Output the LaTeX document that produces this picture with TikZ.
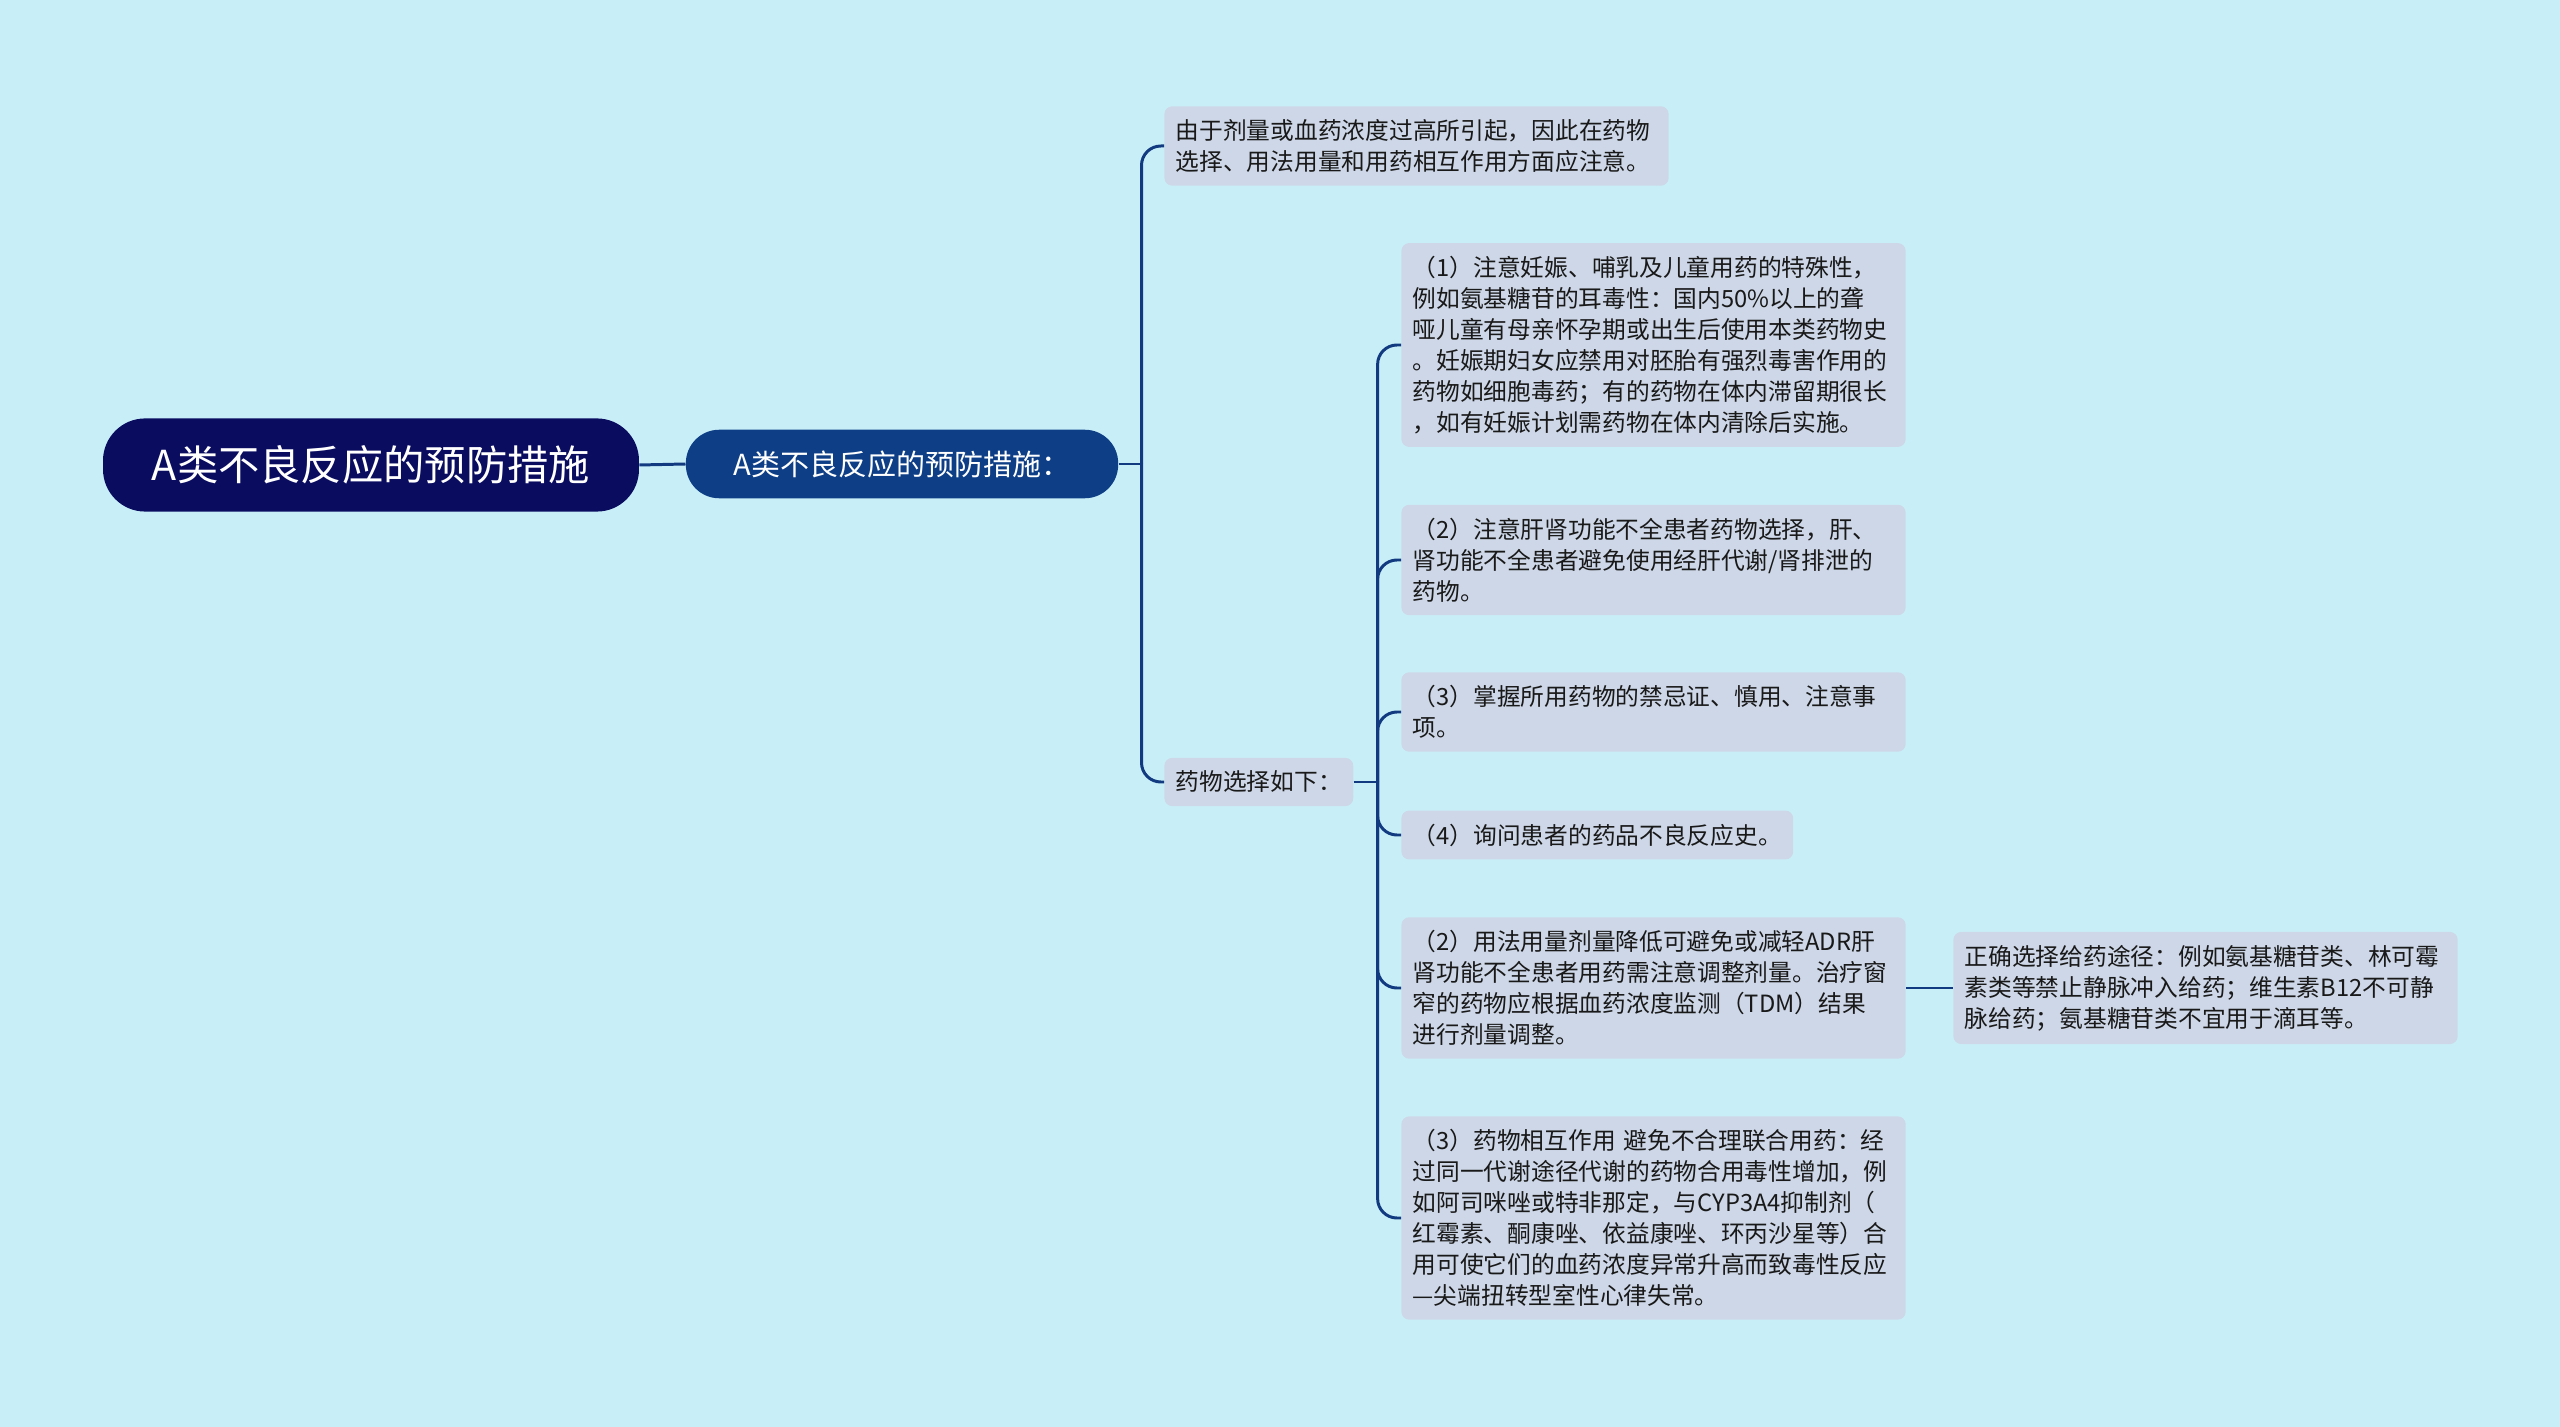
\documentclass[tikz,border=0pt]{standalone}
\usepackage{fontspec}
\setmainfont{Noto Sans CJK SC}
\usepackage{tikz}
\usetikzlibrary{positioning}
\usepackage{xcolor}
\definecolor{mmbg}{RGB}{200,239,248}
\definecolor{mmnavy}{RGB}{10,12,96}
\definecolor{mmblue}{RGB}{14,62,134}
\definecolor{mmline}{RGB}{18,58,128}
\definecolor{mmbox}{RGB}{205,215,231}
\definecolor{mmtext}{RGB}{25,25,25}
\tikzstyle{rootbox} = [rectangle, rounded corners=24pt, minimum width=305pt, minimum height=53pt, text centered, fill=mmnavy, text=white, font=\fontsize{23.5}{28}\selectfont]
\tikzstyle{mainbox} = [rectangle, rounded corners=19pt, minimum width=246pt, minimum height=39pt, text centered, fill=mmblue, text=white, font=\fontsize{16.5}{20}\selectfont]
\tikzstyle{leaf} = [rectangle, rounded corners=4.5pt, fill=mmbox, text=mmtext, align=left, anchor=west, inner xsep=6.5pt, inner ysep=7.5pt, font=\fontsize{13.5}{17.6}\selectfont]
\tikzstyle{wideleaf} = [leaf, text width=274pt]
\tikzstyle{link} = [draw=mmline, line width=1.7pt, rounded corners=11pt]

\begin{document}
\begin{tikzpicture}[x=0.2mm, y=-0.2mm]
\fill[mmbg] (0,0) rectangle (2560,1427);

% Central topic
\node[rootbox] (root) at (371,465) {A类不良反应的预防措施};

% Level 1
\node[mainbox] (main) at (902,464) {A类不良反应的预防措施：};

% Level 2
\node[wideleaf] (cause) at (1164,146) {由于剂量或血药浓度过高所引起，因此在药物\\选择、用法用量和用药相互作用方面应注意。};
\node[leaf] (sel) at (1164,782) {药物选择如下：};

% Level 3 - drug selection
\node[wideleaf] (s1) at (1401,345) {（1）注意妊娠、哺乳及儿童用药的特殊性，\\例如氨基糖苷的耳毒性：国内50\%以上的聋\\哑儿童有母亲怀孕期或出生后使用本类药物史\\。妊娠期妇女应禁用对胚胎有强烈毒害作用的\\药物如细胞毒药；有的药物在体内滞留期很长\\，如有妊娠计划需药物在体内清除后实施。};
\node[wideleaf] (s2) at (1401,560) {（2）注意肝肾功能不全患者药物选择，肝、\\肾功能不全患者避免使用经肝代谢/肾排泄的\\药物。};
\node[wideleaf] (s3) at (1401,712) {（3）掌握所用药物的禁忌证、慎用、注意事\\项。};
\node[leaf] (s4) at (1401,835) {（4）询问患者的药品不良反应史。};
\node[wideleaf] (s5) at (1401,988) {（2）用法用量剂量降低可避免或减轻ADR肝\\肾功能不全患者用药需注意调整剂量。治疗窗\\窄的药物应根据血药浓度监测（TDM）结果\\进行剂量调整。};
\node[wideleaf] (s6) at (1401,1218) {（3）药物相互作用 避免不合理联合用药：经\\过同一代谢途径代谢的药物合用毒性增加，例\\如阿司咪唑或特非那定，与CYP3A4抑制剂（\\红霉素、酮康唑、依益康唑、环丙沙星等）合\\用可使它们的血药浓度异常升高而致毒性反应\\—尖端扭转型室性心律失常。};

% Level 4
\node[wideleaf] (route) at (1953,988) {正确选择给药途径：例如氨基糖苷类、林可霉\\素类等禁止静脉冲入给药；维生素B12不可静\\脉给药；氨基糖苷类不宜用于滴耳等。};

% Connections
\draw[link] (root.east) -- (main.west);
\draw[link] (main.east) -- ++(23,0) coordinate (mj);
\draw[link] (mj) |- (cause.west);
\draw[link] (mj) |- (sel.west);
\draw[link] (sel.east) -- ++(24,0) coordinate (sj);
\foreach \n in {s1,s2,s3,s4,s5,s6}
  \draw[link] (sj) |- (\n.west);
\draw[link] (s5.east) -- (route.west);
\end{tikzpicture}
\end{document}
